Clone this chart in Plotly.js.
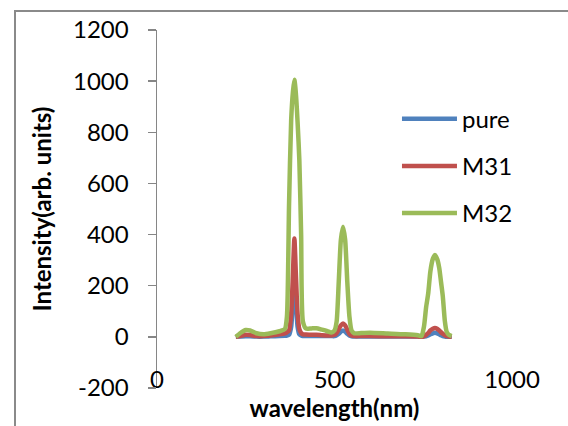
<!DOCTYPE html>
<html>
<head>
<meta charset="utf-8">
<script src="https://cdn.plot.ly/plotly-3.0.1.min.js"></script>
<style>
  html, body { margin: 0; padding: 0; background: #fff; overflow: hidden; }
  #chart { width: 568px; height: 426px; position: relative; }
  #frame { position: absolute; left: 14px; top: 10px; width: 700px; height: 600px;
           border-left: 2px solid #8a8a8a; border-top: 2px solid #8a8a8a; pointer-events: none; }
</style>
</head>
<body>
<div id="chart"></div>
<div id="frame"></div>
<script>
// wavelength (nm)
const wavelength = [222, 235, 250, 262, 280, 300, 320, 345, 360, 366, 372, 378, 383, 387, 391, 396, 401, 406, 411,
  420, 435, 449, 465, 480, 491, 500, 506, 512, 518, 524, 530, 536, 542, 548, 556, 575, 600, 650, 700, 735, 745,
  752, 758, 764, 770, 777, 783, 789, 795, 800, 805, 811, 816, 822, 830];

const pure = [0, 1, 2, 2, 1, 1, 2, 3, 4, 5, 8, 40, 150, 240, 150, 40, 10, 5, 3,
  3, 3, 3, 3, 3, 3, 3, 6, 12, 20, 25, 20, 12, 5, 2, 1, 1, 1, 1, 1, 1, 0,
  1, 2, 5, 10, 14, 16, 14, 10, 6, 3, 1, 0, 0, 0];

const m31 = [0, 3, 8, 7, 3, 3, 5, 10, 14, 18, 25, 90, 250, 385, 250, 90, 30, 15, 10,
  9, 8, 8, 6, 5, 5, 8, 15, 30, 45, 52, 45, 28, 12, 5, 3, 3, 3, 2, 2, 1, 0,
  3, 8, 15, 25, 32, 35, 32, 25, 18, 12, 6, 3, 1, 0];

const m32 = [0, 15, 27, 25, 14, 10, 14, 22, 30, 80, 520, 850, 960, 1005, 955, 840, 690, 400, 60,
  32, 33, 34, 28, 22, 17, 25, 60, 216, 380, 431, 380, 216, 80, 25, 14, 15, 16, 13, 10, 6, 3,
  40, 115, 170, 255, 305, 320, 305, 270, 215, 160, 60, 20, 8, 3];

const seriesNames = ['pure', 'M31', 'M32'];
const seriesColors = ['#4F81BD', '#C0504D', '#9BBB59'];
const xTicks = [0, 500, 1000];
const yTicks = [-200, 0, 200, 400, 600, 800, 1000, 1200];

const FONT = 'Lato, Carlito, "Liberation Sans", sans-serif';
const series = [pure, m31, m32];

const traces = series.map((vals, i) => ({
  type: 'scatter', mode: 'lines',
  x: wavelength, y: vals,
  name: seriesNames[i],
  legendgroup: 'g' + i,
  line: { color: seriesColors[i], width: 4.5, shape: 'spline', smoothing: 0.6 },
  xaxis: 'x', yaxis: 'y'
}));

const axisGray = '#868686';

const layout = {
  width: 568, height: 426,
  margin: { l: 157, r: 56, t: 30, b: 38 },
  paper_bgcolor: '#ffffff', plot_bgcolor: '#ffffff',
  font: { family: FONT, size: 24, color: '#000' },
  showlegend: true,
  legend: {
    x: 0.676, y: 0.814, xanchor: 'left', yanchor: 'top',
    bgcolor: 'rgba(0,0,0,0)', borderwidth: 0,
    font: { family: FONT, size: 24, color: '#000' },
    tracegroupgap: 13, itemwidth: 55
  },
  xaxis: {
    range: [0, 1000], anchor: 'free', position: 0.07,
    showline: false, showgrid: false, zeroline: false, ticks: '',
    tickmode: 'array', tickvals: xTicks, ticktext: xTicks.map(String),
    tickfont: { family: FONT, size: 24, color: '#000' },
    title: { text: '<b>wavelength(nm)</b>', font: { family: FONT, size: 24, color: '#000' }, standoff: 2 }
  },
  xaxis2: {
    range: [0, 1000], overlaying: 'x', matches: 'x', anchor: 'free', position: 200 / 1400,
    showline: true, linecolor: axisGray, linewidth: 1.5,
    ticks: 'outside', ticklen: 9, tickcolor: axisGray, tickwidth: 1.5,
    tickmode: 'array', tickvals: xTicks, showticklabels: false,
    showgrid: false, zeroline: false
  },
  yaxis: {
    range: [-200, 1200], showline: true, linecolor: axisGray, linewidth: 1.5,
    ticks: 'outside', ticklen: 8, tickcolor: axisGray, tickwidth: 1.5,
    tickmode: 'array', tickvals: yTicks, ticktext: yTicks.map(String),
    showgrid: false, zeroline: false, ticklabelstandoff: 14,
    tickfont: { family: FONT, size: 24, color: '#000' },
    title: { text: '<b>Intensity(arb. units)</b>', font: { family: FONT, size: 24, color: '#000' }, standoff: 14 }
  }
};

Plotly.newPlot('chart', traces, layout, { staticPlot: true, displayModeBar: false });
</script>
</body>
</html>
